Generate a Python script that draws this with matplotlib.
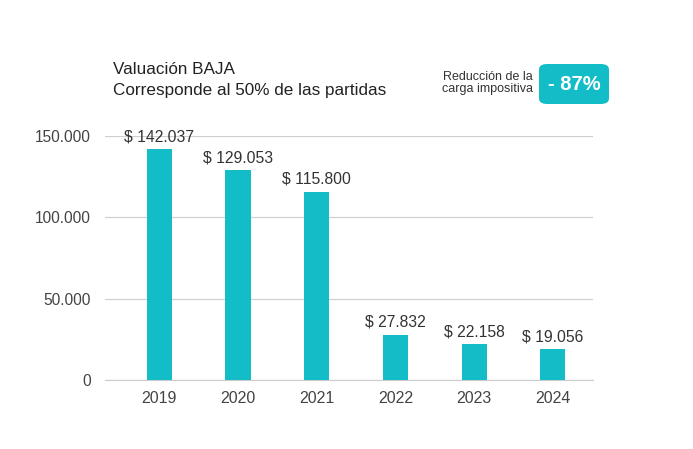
import matplotlib.pyplot as plt
from matplotlib.patches import FancyBboxPatch
from matplotlib.ticker import FuncFormatter

years = ["2019", "2020", "2021", "2022", "2023", "2024"]
values = [142037, 129053, 115800, 27832, 22158, 19056]
y_ticks = [0, 50000, 100000, 150000]

teal = "#12bdc7"
plt.rcParams["font.family"] = ["Liberation Sans", "DejaVu Sans"]


def dotted(v):
    return f"{v:,.0f}".replace(",", ".")


fig = plt.figure(figsize=(6.93, 4.49), dpi=100)
ax = fig.add_axes([105 / 693, 69 / 449, 488 / 693, 244 / 449])

x = list(range(len(years)))
ax.bar(x, values, width=0.32, color=teal, zorder=3)
for xi, v in zip(x, values):
    ax.annotate(f"$ {dotted(v)}", (xi, v), xytext=(0, 3.5), textcoords="offset points",
                ha="center", va="bottom", fontsize=11.3, color="#333333")

ax.set_xlim(-0.69, 5.51)
ax.set_ylim(0, 150000)
ax.set_xticks(x, years)
ax.set_yticks(y_ticks)
ax.yaxis.set_major_formatter(FuncFormatter(lambda v, p: dotted(v)))
ax.grid(axis="y", color="#d0d0d0", linewidth=0.9, zorder=0)
ax.tick_params(length=0, labelsize=11.5, labelcolor="#444444", pad=8)
ax.tick_params(axis="y", labelsize=11.2, pad=10)
for s in ax.spines.values():
    s.set_visible(False)
ax.spines["bottom"].set_visible(True)
ax.spines["bottom"].set_color("#cccccc")

fig.text(113 / 693, 1 - 70 / 449, "Valuación BAJA", fontsize=12.3, color="#222222", va="center")
fig.text(113 / 693, 1 - 90 / 449, "Corresponde al 50% de las partidas", fontsize=12.3,
         color="#222222", va="center")

fig.text(533 / 693, 1 - 83 / 449, "Reducción de la\ncarga impositiva", fontsize=9,
         color="#333333", ha="right", va="center", linespacing=0.95)
badge = FancyBboxPatch((539 / 693, 1 - 104 / 449), 70 / 693, 40 / 449,
                       boxstyle="round,pad=0,rounding_size=0.012",
                       transform=fig.transFigure, facecolor=teal, edgecolor="none")
fig.patches.append(badge)
fig.text(574 / 693, 1 - 84 / 449, "- 87%", fontsize=14.5, fontweight="bold",
         color="white", ha="center", va="center")

fig.savefig("out.png", dpi=100)
